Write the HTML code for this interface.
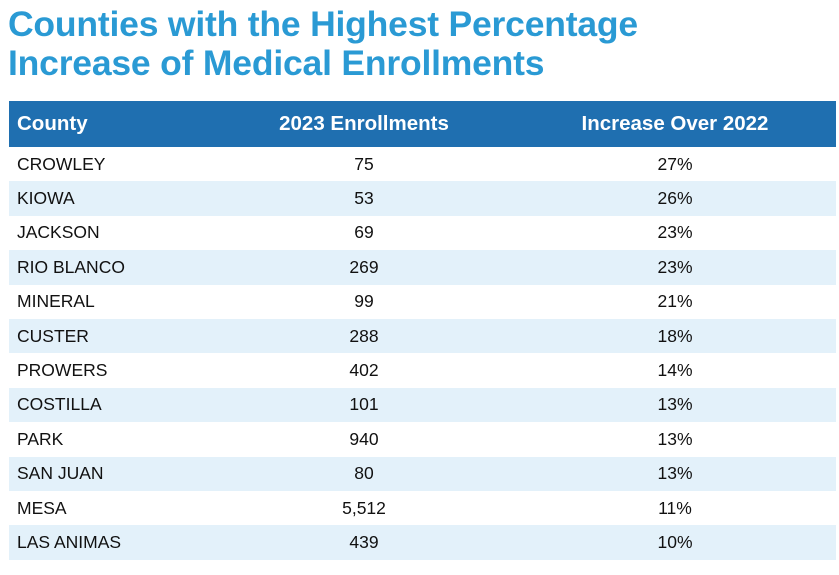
<!DOCTYPE html>
<html><head><style>
body{margin:0;width:839px;height:575px;background:#fff;font-family:"Liberation Sans",sans-serif;overflow:hidden}
h1{position:absolute;left:8px;top:5px;margin:0;font-size:35.5px;line-height:39px;color:#2a9ad4;font-weight:bold;letter-spacing:-0.2px}
table{position:absolute;left:9px;top:101px;width:827px;border-collapse:collapse;table-layout:fixed}
th{background:#1f6fb0;color:#fff;font-size:20.5px;height:46px;padding:0;font-weight:bold}
td{height:34.4px;padding:0;font-size:17.5px;color:#111}
tr:nth-child(odd) td{background:#e3f1fa}
th:first-child,td:first-child{text-align:left;padding-left:8px;width:197px}
th:nth-child(2),td:nth-child(2){text-align:center;width:300px}
th:nth-child(3),td:nth-child(3){text-align:center;width:322px}
</style></head><body>
<h1>Counties with the Highest Percentage<br>Increase of Medical Enrollments</h1>
<table>
<tr><th>County</th><th>2023 Enrollments</th><th>Increase Over 2022</th></tr>
<tr><td>CROWLEY</td><td>75</td><td>27%</td></tr>
<tr><td>KIOWA</td><td>53</td><td>26%</td></tr>
<tr><td>JACKSON</td><td>69</td><td>23%</td></tr>
<tr><td>RIO BLANCO</td><td>269</td><td>23%</td></tr>
<tr><td>MINERAL</td><td>99</td><td>21%</td></tr>
<tr><td>CUSTER</td><td>288</td><td>18%</td></tr>
<tr><td>PROWERS</td><td>402</td><td>14%</td></tr>
<tr><td>COSTILLA</td><td>101</td><td>13%</td></tr>
<tr><td>PARK</td><td>940</td><td>13%</td></tr>
<tr><td>SAN JUAN</td><td>80</td><td>13%</td></tr>
<tr><td>MESA</td><td>5,512</td><td>11%</td></tr>
<tr><td>LAS ANIMAS</td><td>439</td><td>10%</td></tr>
</table>
</body></html>
